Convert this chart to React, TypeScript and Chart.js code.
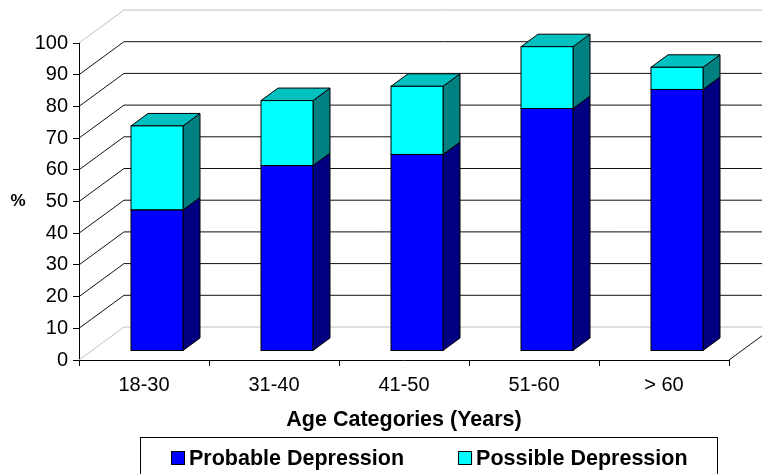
import React, { useEffect, useRef } from "react";
import { Chart, registerables } from "chart.js";

Chart.register(...registerables);

// ---- data ----
const ageCategories = ["18-30", "31-40", "41-50", "51-60", "> 60"];
const probableDepression = [44.5, 58.5, 62, 76.5, 82.5];
const possibleDepression = [26.5, 20.5, 21.5, 19.5, 7];
const seriesNames = ["Probable Depression", "Possible Depression"];
const axisTitleX = "Age Categories (Years)";
const axisTitleY = "%";

// ---- styling ----
const FONT = "'Liberation Sans', Arial, Helvetica, sans-serif";
const FRONT_COLORS = ["#0000FF", "#00FFFF"];
const SIDE_COLORS = ["#000080", "#008080"];
const TOP_COLORS = ["#0000C0", "#00C0C0"];

// 3D depth geometry (pixels)
const WALL_DX = 45;
const WALL_DY = -33;
const BAR_OX = 13;
const BAR_OY = -9;
const BAR_DX = 17;
const BAR_DY = -12.5;

const depthPlugin = {
  id: "depth3d",
  beforeDatasetsDraw(chart: any) {
    const { ctx, chartArea, scales } = chart;
    const yScale = scales.y;
    const left = chartArea.left;
    const right = chartArea.right;
    ctx.save();
    ctx.lineWidth = 1;

    // side wall diagonals and back wall gridlines
    yScale.ticks.forEach((t: any, i: number) => {
      const py = yScale.getPixelForValue(t.value);
      const edge = i === 0 || i === yScale.ticks.length - 1;
      ctx.strokeStyle = edge ? "#c0c0c0" : "#111111";
      ctx.beginPath();
      ctx.moveTo(left, py);
      ctx.lineTo(left + WALL_DX, py + WALL_DY);
      ctx.lineTo(right + WALL_DX, py + WALL_DY);
      ctx.stroke();
    });

    // right edge of the floor
    const p0 = yScale.getPixelForValue(0);
    ctx.strokeStyle = "#111111";
    ctx.beginPath();
    ctx.moveTo(right, p0);
    ctx.lineTo(right + WALL_DX, p0 + WALL_DY);
    ctx.stroke();

    // side and top faces of each bar segment
    const nSets = chart.data.datasets.length;
    ctx.strokeStyle = "#000000";
    for (let d = 0; d < nSets; d++) {
      const meta = chart.getDatasetMeta(d);
      meta.data.forEach((bar: any, j: number) => {
        const { x, y, base, width } = bar.getProps(["x", "y", "base", "width"], true);
        const l = x - width / 2 + BAR_OX;
        const r = x + width / 2 + BAR_OX;
        const top = y + BAR_OY;
        const bottom = base + BAR_OY;
        // side
        ctx.fillStyle = SIDE_COLORS[d];
        ctx.beginPath();
        ctx.moveTo(r, top);
        ctx.lineTo(r + BAR_DX, top + BAR_DY);
        ctx.lineTo(r + BAR_DX, bottom + BAR_DY);
        ctx.lineTo(r, bottom);
        ctx.closePath();
        ctx.fill();
        ctx.stroke();
        // top face on the highest segment
        let isTop = true;
        for (let k = d + 1; k < nSets; k++) {
          if (chart.data.datasets[k].data[j] > 0) isTop = false;
        }
        if (isTop) {
          ctx.fillStyle = TOP_COLORS[d];
          ctx.beginPath();
          ctx.moveTo(l, top);
          ctx.lineTo(l + BAR_DX, top + BAR_DY);
          ctx.lineTo(r + BAR_DX, top + BAR_DY);
          ctx.lineTo(r, top);
          ctx.closePath();
          ctx.fill();
          ctx.stroke();
        }
      });
    }
    ctx.restore();

    // front faces are drawn by Chart.js in the bar plane
    ctx.save();
    ctx.translate(BAR_OX, BAR_OY);
  },
  afterDatasetsDraw(chart: any) {
    const { ctx } = chart;
    // black outline round every front face
    ctx.strokeStyle = "#000000";
    ctx.lineWidth = 1;
    chart.data.datasets.forEach((_: any, d: number) => {
      chart.getDatasetMeta(d).data.forEach((bar: any) => {
        const { x, y, base, width } = bar.getProps(["x", "y", "base", "width"], true);
        ctx.strokeRect(x - width / 2, y, width, base - y);
      });
    });
    ctx.restore();
  },
  afterDraw(chart: any) {
    const { ctx, scales } = chart;
    ctx.save();
    // y axis title, horizontal
    ctx.fillStyle = "#000";
    ctx.font = `bold 17px ${FONT}`;
    ctx.textAlign = "center";
    ctx.textBaseline = "middle";
    ctx.fillText(axisTitleY, 18, scales.y.getPixelForValue(50));

    // legend with border
    const boxL = 140.5;
    const boxR = 717.5;
    const boxT = 437.5;
    ctx.strokeStyle = "#000";
    ctx.lineWidth = 1;
    ctx.strokeRect(boxL, boxT, boxR - boxL, 60);

    ctx.font = `bold 21.5px ${FONT}`;
    ctx.textAlign = "left";
    const sw = 14;
    const gapText = 4;
    const gapItem = 54;
    const widths = chart.data.datasets.map(
      (ds: any) => sw + gapText + ctx.measureText(ds.label).width
    );
    const total = widths.reduce((a: number, b: number) => a + b, 0) + gapItem * (widths.length - 1);
    let x = Math.round((boxL + boxR) / 2 - total / 2);
    const cy = 458;
    chart.data.datasets.forEach((ds: any, i: number) => {
      ctx.fillStyle = ds.backgroundColor;
      ctx.fillRect(x, cy - 7, sw, sw);
      ctx.strokeRect(x + 0.5, cy - 6.5, sw - 1, sw - 1);
      ctx.fillStyle = "#000";
      ctx.fillText(ds.label, x + sw + gapText, cy + 1);
      x += widths[i] + gapItem;
    });
    ctx.restore();
  },
};

export default function App() {
  const canvasRef = useRef<HTMLCanvasElement>(null);

  useEffect(() => {
    const canvas = canvasRef.current;
    if (!canvas) return;
    Chart.defaults.font.family = FONT;
    const chart = new Chart(canvas, {
      type: "bar",
      data: {
        labels: ageCategories,
        datasets: [
          {
            label: seriesNames[0],
            data: probableDepression,
            backgroundColor: FRONT_COLORS[0],
            borderWidth: 0,
            barPercentage: 0.4,
            categoryPercentage: 1,
            clip: false as any,
          },
          {
            label: seriesNames[1],
            data: possibleDepression,
            backgroundColor: FRONT_COLORS[1],
            borderWidth: 0,
            barPercentage: 0.4,
            categoryPercentage: 1,
            clip: false as any,
          },
        ],
      },
      options: {
        responsive: false,
        animation: false,
        layout: { padding: { top: 43, right: 33, left: 0, bottom: 0 } },
        plugins: {
          legend: { display: false },
          tooltip: { enabled: false },
        },
        scales: {
          x: {
            stacked: true,
            grid: {
              offset: true,
              drawOnChartArea: false,
              drawTicks: true,
              tickLength: 6,
              color: "#000",
            },
            border: { display: true, color: "#000", width: 1 },
            ticks: {
              color: "#000",
              font: { size: 20 },
              padding: 7,
              maxRotation: 0,
            },
            title: {
              display: true,
              text: axisTitleX,
              color: "#000",
              font: { size: 21.5, weight: "bold" },
              padding: { top: 0, bottom: 41 },
            },
            afterFit: (scale: any) => {
              scale.height = 114;
            },
          },
          y: {
            stacked: true,
            min: 0,
            max: 100,
            ticks: {
              stepSize: 10,
              color: "#000",
              font: { size: 20 },
              padding: 5,
            },
            grid: {
              drawOnChartArea: false,
              drawTicks: true,
              tickLength: 6,
              color: "#000",
            },
            border: { display: true, color: "#000", width: 1 },
            afterFit: (scale: any) => {
              scale.width = 79;
            },
          },
        },
      },
      plugins: [depthPlugin],
    });
    return () => chart.destroy();
  }, []);

  return (
    <div
      style={{
        position: "absolute",
        left: 0,
        top: 0,
        width: 762,
        height: 474,
        background: "#ffffff",
        overflow: "hidden",
      }}
    >
      <canvas ref={canvasRef} width={762} height={474} style={{ display: "block" }} />
    </div>
  );
}
